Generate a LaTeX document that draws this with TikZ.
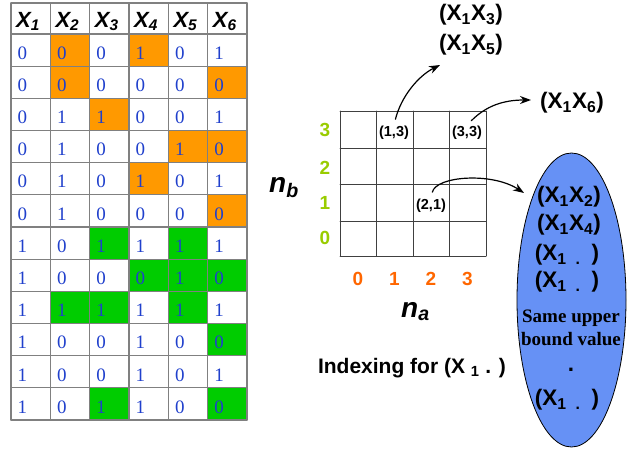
\documentclass[tikz,border=0pt]{standalone}
\usepackage{fontspec}
\setmainfont{Liberation Serif}
\setsansfont{Liberation Sans}
\usetikzlibrary{arrows.meta, calc, shapes.geometric}

\definecolor{cellorange}{HTML}{FF9900}
\definecolor{cellgreen}{HTML}{00CC00}
\definecolor{bitblue}{HTML}{2040CC}
\definecolor{nbgreen}{HTML}{99CC00}
\definecolor{naorange}{HTML}{FF6600}
\definecolor{blobblue}{HTML}{6691F5}

\tikzset{
	tablegrid/.style={draw=gray, line width=1.2pt},
	indexgrid/.style={draw=black!75, line width=0.9pt},
	colhead/.style={anchor=base west, inner sep=0pt, font=\sffamily\bfseries\itshape\fontsize{22}{22}\selectfont},
	bit/.style={anchor=base west, inner sep=0pt, text=bitblue, font=\fontsize{19}{19}\selectfont},
	nblabel/.style={text=nbgreen, font=\sffamily\bfseries\fontsize{19}{19}\selectfont},
	nalabel/.style={text=naorange, font=\sffamily\bfseries\fontsize{19}{19}\selectfont},
	axisname/.style={anchor=base west, inner sep=0pt, font=\sffamily\bfseries\itshape\fontsize{28}{28}\selectfont},
	cellidx/.style={inner sep=1pt, font=\sffamily\bfseries\fontsize{14.5}{14.5}\selectfont},
	pairtext/.style={inner sep=2pt, font=\sffamily\bfseries\fontsize{22.5}{30}\selectfont},
	blob/.style={ellipse, draw=black, line width=0.8pt, fill=blobblue, inner sep=0pt},
	upper/.style={font=\bfseries\fontsize{19}{23}\selectfont, align=center}
}
\newcommand{\xone}{(X\textsubscript{1\hspace{0.6em}.}\hspace{0.5em})}

\begin{document}
\begin{tikzpicture}[x=1pt, y=-1pt, >={Stealth[length=11pt,width=8pt]}, line cap=round, line join=round]
	
	\useasboundingbox (0,0) rectangle (632,450);
	\def\cw{39.33}
	\def\rh{32.17}
	
	%========================
	% Left: data table
	%========================
	% highlighted cells
	\foreach \r/\c in {1/2,1/4,2/2,2/6,3/3,4/5,4/6,5/4,6/6}
	\fill[cellorange] ({11+(\c-1)*\cw},{34+(\r-1)*\rh}) rectangle ++(\cw,\rh);
	\foreach \r/\c in {7/3,7/5,8/4,8/5,8/6,9/2,9/3,9/5,10/6,12/3,12/6}
	\fill[cellgreen] ({11+(\c-1)*\cw},{34+(\r-1)*\rh}) rectangle ++(\cw,\rh);
	
	% grid
	\foreach \c in {0,...,6}
	\draw[tablegrid] ({11+\c*\cw},3) -- ({11+\c*\cw},420);
	\draw[tablegrid] (11,3) -- (247,3);
	\foreach \r in {0,...,12}
	\draw[tablegrid] (11,{34+\r*\rh}) -- (247,{34+\r*\rh});
	
	% column heads
	\foreach \c in {1,...,6}
	\node[colhead] (h\c) at ({11+(\c-1)*\cw+5},27) {X\textsubscript{\c}};
	
	% bits
	\foreach \row [count=\r] in {{0,0,0,1,0,1},{0,0,0,0,0,0},{0,1,1,0,0,1},{0,1,0,0,1,0},
		{0,1,0,1,0,1},{0,1,0,0,0,0},{1,0,1,1,1,1},{1,0,0,0,1,0},
		{1,1,1,1,1,1},{1,0,0,1,0,0},{1,0,0,1,0,1},{1,0,1,1,0,0}}
	\foreach \v [count=\c] in \row
	\node[bit] (b\r-\c) at ({11+(\c-1)*\cw+6.5},{34+(\r-1)*\rh+25.3}) {\v};
	
	%========================
	% Right: index grid
	%========================
	\foreach \x in {340,376,413,449,486}
	\draw[indexgrid] (\x,111) -- (\x,256);
	\foreach \y in {111,148,184,221,256}
	\draw[indexgrid] (340,\y) -- (486,\y);
	
	% axis values and names
	\foreach \v/\y in {3/130,2/168,1/203,0/238}
	\node[nblabel] (nb\v) at (325,\y) {\v};
	\foreach \v/\x in {0/358,1/394.5,2/431,3/467.5}
	\node[nalabel] (na\v) at (\x,279) {\v};
	\node[axisname] (nb) at (269,192) {n\textsubscript{b}};
	\node[axisname] (na) at (401,317) {n\textsubscript{a}};
	
	% cell indices
	\node[cellidx] (i13) at (394,133) {(1,3)};
	\node[cellidx] (i33) at (467,133) {(3,3)};
	\node[cellidx] (i21) at (431,206) {(2,1)};
	
	% targets
	\node[pairtext, align=center] (p13) at (471,30) {(X\textsubscript{1}X\textsubscript{3})\\(X\textsubscript{1}X\textsubscript{5})};
	\node[pairtext] (p33) at (572,103) {(X\textsubscript{1}X\textsubscript{6})};
	
	\node[blob, minimum width=109pt, minimum height=294pt] (ell) at (571.5,300) {};
	\node[pairtext] (e1) at (569,197) {(X\textsubscript{1}X\textsubscript{2})};
	\node[pairtext] (e2) at (569,225) {(X\textsubscript{1}X\textsubscript{4})};
	\node[pairtext] (e3) at (567,255) {\xone};
	\node[pairtext] (e4) at (567,282) {\xone};
	\node[upper] (same) at (571,328) {Same upper\\bound value};
	\node[pairtext] (e5) at (571,370) {.};
	\node[pairtext] (e6) at (567,400) {\xone};
	
	\node[font=\sffamily\bfseries\fontsize{21}{21}\selectfont] (idx) at (412,368) {Indexing for (X \textsubscript{1} . )};
	
	% arrows
	\coordinate (to13) at (440,65);
	\coordinate (to33) at (531,100);
	\coordinate (to21) at (524,193);
	\draw[->, line width=1.2pt, shorten <=6pt] (i13.north) .. controls (401,97) and (418,76) .. (to13);
	\draw[->, line width=1.2pt, shorten <=6pt] (i33.north) .. controls (486,106) and (503,100) .. (to33);
	\draw[->, line width=1.2pt, shorten <=6pt] (i21.north) .. controls (436,176) and (492,172) .. (to21);
	
\end{tikzpicture}
\end{document}
